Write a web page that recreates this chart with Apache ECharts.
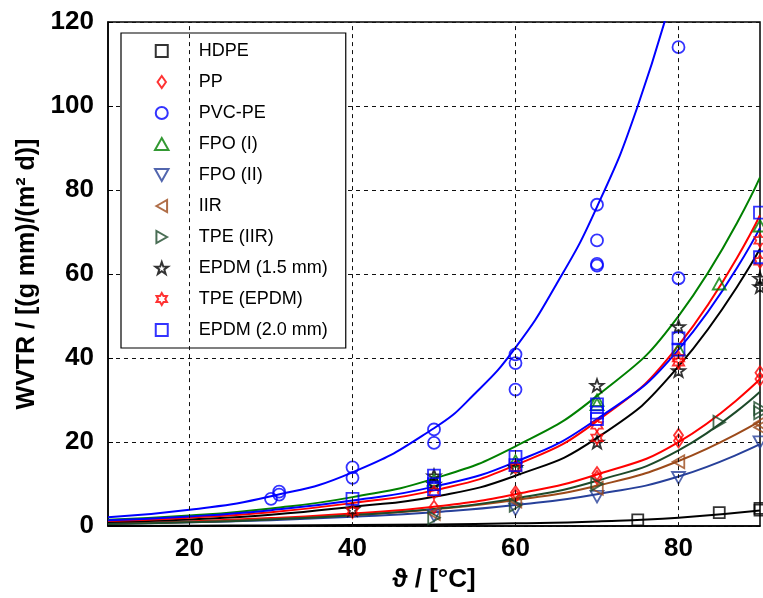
<!DOCTYPE html>
<html lang="en">
<head>
    <meta charset="UTF-8">
    <title>WVTR</title>
    <script src="https://cdn.jsdelivr.net/npm/echarts@6/dist/echarts.min.js"></script>
</head>
<body style="margin:0;background:#fff">
    <div id="box" style="width: 763px; height: 598px;"></div>
</body>
<script>
    // measured points [temperature, WVTR]
    var hdpe = [[75,1.5],[85,3.2],[90,3.8],[90,4.2]]
    var pp = [[50,4.5],[60,8],[60,7.2],[70,12.5],[70,11.6],[80,21.6],[80,20.3],[90,36.5],[90,35]]
    var pvcpe = [[30,6.5],[31,7.5],[31,8.2],[40,14],[40,11.5],[50,23],[50,19.8],[60,40.9],[60,38.8],[60,32.5],[70,76.5],[70,68],[70,62.4],[70,62],[80,114],[80,59]]
    var fpo1 = [[50,11],[60,15.5],[70,30],[70,29],[80,42],[85,57.7],[90,71.5]]
    var fpo2 = [[50,2.5],[60,4],[70,7],[80,11.5],[90,20]]
    var iir = [[50,3],[60,6],[70,9],[80,15.3],[90,24.5],[90,23.5]]
    var tpeIir = [[50,2],[60,5],[70,10],[85,24.7],[90,28],[90,27]]
    var epdm15 = [[40,4],[50,12],[50,10],[60,14],[70,33.5],[70,20],[80,47.5],[80,37],[90,59],[90,57]]
    var tpeEpdm = [[40,3.5],[50,8],[60,14],[70,24],[70,21],[80,40],[80,39],[90,68],[90,63]]
    var epdm20 = [[40,6.5],[50,12],[50,10],[50,8.8],[60,16.5],[60,14.5],[70,29],[70,27],[70,25.5],[80,44.7],[80,42],[90,74.6],[90,64]]

    var fitX = [10,20,30,40,50,60,70,80,90]
    var hdpeFit = [0.05,0.1,0.15,0.25,0.4,0.65,1.1,2.0,3.7]
    var ppFit = [0.6,1.1,1.9,3.0,4.6,7.6,12.3,20,35]
    var fpo1Fit = [1.5,2.5,4.2,6.9,11.3,19,31,50,83]
    var fpo2Fit = [0.5,0.9,1.4,2.2,3.3,5.0,7.6,11.8,19.5]
    var iirFit = [0.6,1.0,1.7,2.6,4.0,6.2,9.6,15.5,25]
    var tpeIirFit = [0.5,0.9,1.6,2.6,4.1,6.6,10.8,18,32]
    var epdm15Fit = [0.95,1.6,2.7,4.6,7.0,12,21,38,66]
    var tpeEpdmFit = [1.2,2.0,3.3,5.5,8.5,14.5,25,43,74]
    var epdm20Fit = [1.4,2.3,3.8,6.1,9.4,15.3,25.5,42,71]
    var pvcFitX = [10,20,30,40,50,55,60,65,70,75,80]
    var pvcFit = [2.1,3.9,7.1,12.8,23.3,31.5,42.5,57.5,76,100,132]

    var gridX = [20,40,60,80]

    var star5 = 'path://M0,-10L2.35,-3.24L9.51,-3.09L3.8,1.24L5.88,8.09L0,4L-5.88,8.09L-3.8,1.24L-9.51,-3.09L-2.35,-3.24Z'
    var star6 = 'path://M0,-10L2.89,-5L8.66,-5L5.77,0L8.66,5L2.89,5L0,10L-2.89,5L-8.66,5L-5.77,0L-8.66,-5L-2.89,-5Z'
    var triUp = 'path://M0,-9L9,7L-9,7Z'
    var triDown = 'path://M0,9L9,-7L-9,-7Z'
    var triLeft = 'path://M-9,0L7,-9L7,9Z'
    var triRight = 'path://M9,0L-7,-9L-7,9Z'
    var diamond = 'path://M0,-10L7,0L0,10L-7,0Z'
    var square = 'path://M-10,-10L10,-10L10,10L-10,10Z'

    var font = 'Liberation Sans, Arial, sans-serif'

    function pts(name, data, symbol, size, color) {
        return {
            name: name, type: 'scatter', data: data, z: 4,
            symbol: symbol, symbolSize: size, symbolKeepAspect: true,
            itemStyle: {color: 'rgba(0,0,0,0)', borderColor: color, borderWidth: 1.8}
        }
    }
    function fit(xs, vals, color) {
        return {
            type: 'line', data: vals.map(function (v, i) { return [xs[i], v] }),
            smooth: true, showSymbol: false, symbol: 'none', z: 3, silent: true,
            lineStyle: {color: color, width: 2}
        }
    }

    var mEcharts = echarts.init(document.querySelector('#box'))
    var option = {
        animation: false,
        backgroundColor: '#fff',
        grid: {left: 108, right: 3, top: 22, bottom: 66, show: true, borderColor: '#000', borderWidth: 1.5, backgroundColor: 'transparent'},
        legend: {
            orient: 'vertical', left: 121, top: 33,
            data: ['HDPE','PP','PVC-PE','FPO (I)','FPO (II)','IIR','TPE (IIR)','EPDM (1.5 mm)','TPE (EPDM)','EPDM (2.0 mm)'],
            itemWidth: 64, itemHeight: 12, itemGap: 11, symbolKeepAspect: true,
            padding: [8, 18, 8, 33],
            backgroundColor: '#fff', borderColor: '#000', borderWidth: 1.2,
            textStyle: {fontFamily: font, fontSize: 18, color: '#000', lineHeight: 20},
            selectedMode: false
        },
        xAxis: {
            type: 'value', min: 10, max: 90, interval: 10,
            name: 'ϑ / [°C]', nameLocation: 'middle', nameGap: 34,
            nameTextStyle: {fontFamily: font, fontSize: 26, fontWeight: 'bold', color: '#000'},
            axisLine: {lineStyle: {color: '#000', width: 1.5}},
            axisTick: {show: false},
            splitLine: {show: false},
            axisLabel: {
                margin: 10, fontFamily: font, fontSize: 26, fontWeight: 'bold', color: '#000',
                formatter: function (v) { return v % 20 === 0 ? v : '' }
            }
        },
        yAxis: {
            type: 'value', min: 0, max: 120, interval: 20,
            name: 'WVTR / [(g mm)/(m² d)]', nameLocation: 'middle', nameGap: 66,
            nameTextStyle: {fontFamily: font, fontSize: 25, fontWeight: 'bold', color: '#000'},
            axisLine: {lineStyle: {color: '#000', width: 1.5}},
            axisTick: {inside: true, length: 5, lineStyle: {color: '#000'}},
            splitLine: {lineStyle: {color: '#111', type: [4, 4], width: 1}},
            axisLabel: {margin: 14, fontFamily: font, fontSize: 26, fontWeight: 'bold', color: '#000'}
        },
        series: [
            Object.assign(fit(fitX, hdpeFit, '#000'), {
                markLine: {
                    silent: true, symbol: 'none', label: {show: false},
                    lineStyle: {color: '#111', type: [4, 4], width: 1},
                    data: gridX.map(function (v) { return {xAxis: v} })
                }
            }),
            fit(fitX, ppFit, '#ff0000'),
            fit(pvcFitX, pvcFit, '#0000ff'),
            fit(fitX, fpo1Fit, '#008000'),
            fit(fitX, fpo2Fit, '#27409a'),
            fit(fitX, iirFit, '#9c4a1a'),
            fit(fitX, tpeIirFit, '#1d4a2a'),
            fit(fitX, epdm15Fit, '#000'),
            fit(fitX, tpeEpdmFit, '#ff0000'),
            fit(fitX, epdm20Fit, '#0000ff'),
            pts('HDPE', hdpe, square, 11, '#000'),
            pts('PP', pp, diamond, 13, '#ff0000'),
            pts('PVC-PE', pvcpe, 'circle', 12, '#0000ff'),
            pts('FPO (I)', fpo1, triUp, 13, '#008000'),
            pts('FPO (II)', fpo2, triDown, 13, '#27409a'),
            pts('IIR', iir, triLeft, 13, '#9c4a1a'),
            pts('TPE (IIR)', tpeIir, triRight, 13, '#1d4a2a'),
            pts('EPDM (1.5 mm)', epdm15, star5, 13, '#000'),
            pts('TPE (EPDM)', tpeEpdm, star6, 13, '#ff0000'),
            pts('EPDM (2.0 mm)', epdm20, square, 12, '#0000ff')
        ]
    }
    mEcharts.setOption(option)
</script>
</html>
